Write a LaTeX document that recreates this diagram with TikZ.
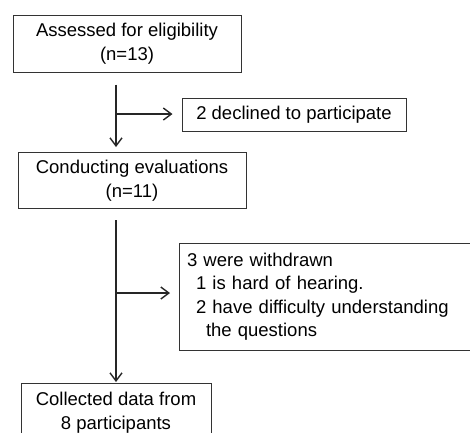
\documentclass[tikz,border=0pt]{standalone}
\usepackage{fontspec}
\setmainfont{Liberation Sans}
\usetikzlibrary{arrows.meta}
\begin{document}
\begin{tikzpicture}[x=1pt,y=1pt,
  box/.style={draw=black!80,line width=1pt,inner sep=0pt,font=\fontsize{18.5}{23.5}\selectfont},
  arr/.style={draw=black!85,line width=1.3pt,-{Straight Barb[length=8pt,width=12pt,line width=1.4pt]}}]
\useasboundingbox (0,0) rectangle (470,-432);
\node[box,minimum width=228pt,minimum height=57pt,align=center] (b1) at (127,-43.5) {Assessed for eligibility\\(n=13)};
\node[box,minimum width=224pt,minimum height=33pt,align=center] (b2) at (294,-114.5) {2 declined to participate};
\node[box,minimum width=228pt,minimum height=56pt,align=center] (b3) at (132,-180.5) {Conducting evaluations\\(n=11)};
\node[box,minimum width=300pt,minimum height=107pt,align=left,anchor=west,text width=285pt] (b5) at (179,-296.5) {\hspace*{0pt}3 were withdrawn\\\hspace*{9pt}1 is hard of hearing.\\\hspace*{9pt}2 have difficulty understanding\\\hspace*{19pt}the questions};
\node[box,minimum width=190pt,minimum height=58pt,align=center,anchor=north] (b4) at (116,-383) {Collected data from\\8 participants};
\coordinate (x1) at (116,0);
\coordinate (j1) at (116,-114);
\coordinate (j2) at (116,-293);
\draw[arr,shorten <=12pt,shorten >=5pt] (b1.south -| x1) -- (b3.north -| x1);
\draw[arr,shorten >=9pt] (j1) -- (j1 -| b2.west);
\draw[arr,shorten <=11pt,shorten >=1pt] (b3.south -| x1) -- (b4.north -| x1);
\draw[arr,shorten >=9pt] (j2) -- (j2 -| b5.west);
\end{tikzpicture}
\end{document}
